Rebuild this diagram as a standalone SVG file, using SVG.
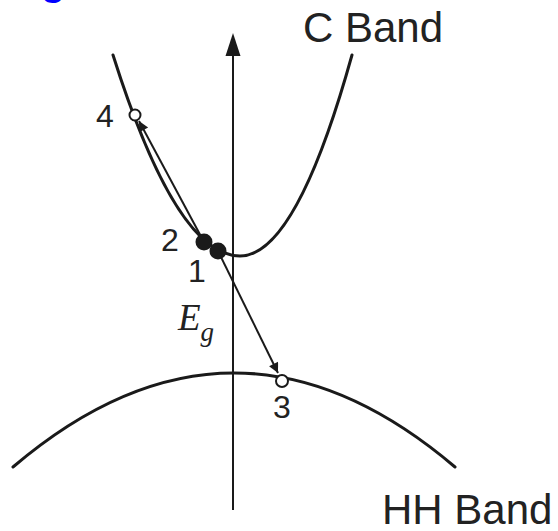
<svg xmlns="http://www.w3.org/2000/svg" width="558" height="531" viewBox="0 0 558 531">
<style>
.band{fill:none;stroke:#1a1a1a;stroke-width:3;stroke-linecap:round}
.ax{fill:none;stroke:#1a1a1a;stroke-width:2}
.arr{fill:none;stroke:#1a1a1a;stroke-width:2}
.lbl{font-family:"Liberation Sans",Arial,sans-serif;fill:#222}
.dot{fill:#1a1a1a}
.open{fill:#fff;stroke:#1a1a1a;stroke-width:2}
</style>
<defs>
<marker id="ahs" viewBox="0 0 10 10" refX="10" refY="5" markerWidth="17" markerHeight="10" markerUnits="userSpaceOnUse" orient="auto">
<path d="M0,0 L10,5 L0,10 z" fill="#1a1a1a"/>
</marker>
</defs>
<rect width="558" height="531" fill="#fff"/>
<text x="41" y="-5" font-family="Liberation Sans,Arial,sans-serif" font-weight="bold" font-size="40" fill="#0000ff">g</text>
<g id="axis">
<line class="ax" x1="233" y1="510" x2="233" y2="55"/>
<path d="M233,33 L240.5,56 L225.5,56 z" fill="#1a1a1a"/>
</g>
<g id="c-band">
<path class="band" d="M113,55 Q176.5,256 240,256 Q296,256 352,55"/>
<text class="lbl" x="303" y="42" font-size="42">C Band</text>
</g>
<g id="hh-band">
<path class="band" d="M13,467 Q234,279 455,467"/>
<text class="lbl" x="382" y="524" font-size="42">HH Band</text>
</g>
<g id="connectors">
<line class="arr" x1="204" y1="242" x2="139" y2="121" marker-end="url(#ahs)"/>
<line class="arr" x1="218" y1="251" x2="278" y2="373" marker-end="url(#ahs)"/>
</g>
<g id="p4">
<circle class="open" cx="135" cy="115" r="5.5"/>
<text class="lbl" x="96" y="127" font-size="32">4</text>
</g>
<g id="p2">
<circle class="dot" cx="204" cy="242" r="8.5"/>
<text class="lbl" x="161" y="251" font-size="32">2</text>
</g>
<g id="p1">
<circle class="dot" cx="218" cy="251" r="8.5"/>
<text class="lbl" x="188" y="282" font-size="32">1</text>
</g>
<g id="p3">
<circle class="open" cx="282" cy="381" r="6"/>
<text class="lbl" x="273" y="418" font-size="32">3</text>
</g>
<g id="eg">
<text x="178" y="330" font-family="Liberation Serif,'Times New Roman',serif" font-style="italic" font-size="37" fill="#222">E<tspan font-size="27" dy="11">g</tspan></text>
</g>
</svg>
